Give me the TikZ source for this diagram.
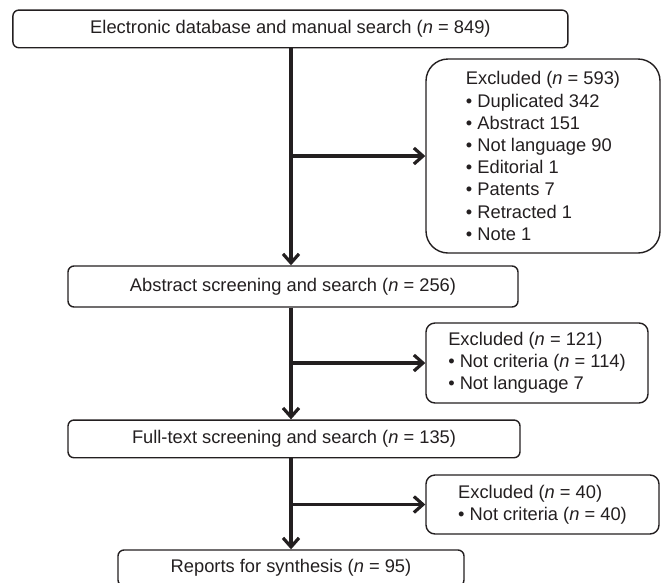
\documentclass[tikz,border=0pt]{standalone}
\usepackage{fontspec}
\setmainfont{Liberation Sans}
\usetikzlibrary{arrows.meta}
\definecolor{ink}{HTML}{231F20}
\begin{document}
\begin{tikzpicture}[x=1pt,y=1pt,
  box/.style={draw=ink, line width=1.4pt, text=ink, align=center, inner sep=0pt,
    font=\fontsize{18.3}{22.2}\selectfont, rounded corners=6pt},
  exbox/.style={box, align=left, rounded corners=9pt},
  conn/.style={draw=ink, line width=3.6pt, -{Straight Barb[length=9pt,width=16pt,line width=3.2pt]}}]
\useasboundingbox (0,0) rectangle (661,-582);
\coordinate (s) at (291,0);
\node[box, minimum width=555pt, minimum height=37.7pt] (b1) at (290.4,-28.9)
  {Electronic database and manual search (\textit{n} = 849)};
\node[exbox, rounded corners=22pt, minimum width=234pt, minimum height=194pt] (ex1) at (543,-156)
  {Excluded (\textit{n} = 593)\\
   • Duplicated 342\\
   • Abstract 151\\
   • Not language 90\\
   • Editorial 1\\
   • Patents 7\\
   • Retracted 1\\
   • Note 1};
\node[box, minimum width=450pt, minimum height=41pt] (b2) at (293,-286.5)
  {Abstract screening and search (\textit{n} = 256)};
\node[exbox, minimum width=222pt, minimum height=80pt] (ex2) at (537,-363)
  {Excluded (\textit{n} = 121)\\
   • Not criteria (\textit{n} = 114)\\
   • Not language 7};
\node[box, minimum width=452pt, minimum height=37.7pt] (b3) at (294,-438.9)
  {Full-text screening and search (\textit{n} = 135)};
\node[exbox, minimum width=233pt, minimum height=59pt] (ex3) at (542.5,-504.5)
  {Excluded (\textit{n} = 40)\\
   • Not criteria (\textit{n} = 40)};
\node[box, minimum width=346pt, minimum height=36pt] (b4) at (291,-568)
  {Reports for synthesis (\textit{n} = 95)};
\draw[conn] (b1.south -| s) -- (b2.north -| s);
\draw[conn] (b2.south -| s) -- (b3.north -| s);
\draw[conn] (b3.south -| s) -- (b4.north -| s);
\draw[conn] (ex1.west -| s) -- (ex1.west);
\draw[conn] (ex2.west -| s) -- (ex2.west);
\draw[conn] (ex3.west -| s) -- (ex3.west);
\end{tikzpicture}
\end{document}
